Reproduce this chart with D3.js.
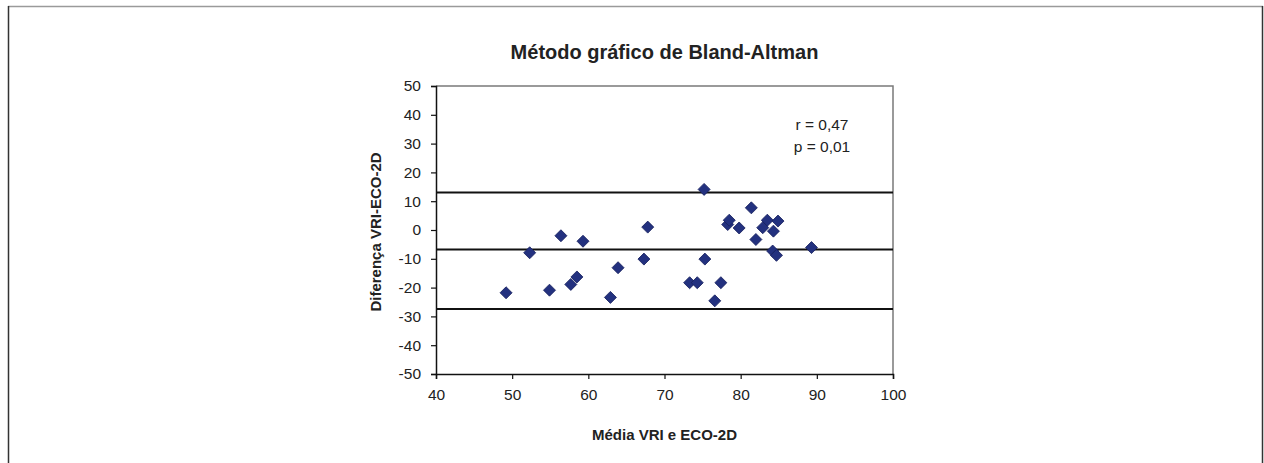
<!DOCTYPE html>
<html>
<head>
<meta charset="utf-8">
<script src="https://cdn.jsdelivr.net/npm/d3@7"></script>
<style>
  body { margin: 0; background: #fff; }
  text { font-family: "Liberation Sans", Arial, sans-serif; fill: #222; }
</style>
</head>
<body>
<div id="chart-area"></div>
<script>
// data
var meanVals = [49.2, 52.3, 54.9, 56.4, 57.7, 58.5, 59.3, 62.9, 63.9, 67.3, 67.8,
                73.3, 74.3, 75.2, 75.3, 76.6, 77.4, 78.3, 78.5, 79.8, 81.4, 82.0,
                82.9, 83.5, 84.2, 84.3, 84.7, 84.9, 89.3];
var diffVals = [-21.8, -7.9, -20.9, -2.0, -18.9, -16.3, -3.9, -23.4, -13.1, -10.1, 1.0,
                -18.3, -18.3, 14.1, -10.1, -24.6, -18.3, 1.9, 3.4, 0.7, 7.7, -3.3,
                0.8, 3.4, -7.3, -0.4, -8.8, 3.1, -6.1];
var refLines = [13.0, -6.8, -27.4];   // upper limit, mean, lower limit
var xTicks = [40, 50, 60, 70, 80, 90, 100];
var yTicks = [50, 40, 30, 20, 10, 0, -10, -20, -30, -40, -50];
var statLines = ["r = 0,47", "p = 0,01"];

var W = 1264, H = 463;
var plot = {left: 436, right: 893, top: 86, bottom: 374};

var svg = d3.select("#chart-area").append("svg")
    .attr("width", W)
    .attr("height", H);

// outer frame
svg.append("line").attr("x1", 8).attr("x2", 1263).attr("y1", 6.5).attr("y2", 6.5)
    .attr("stroke", "#9a9a9a").attr("stroke-width", 1.5);
svg.append("line").attr("x1", 8.5).attr("x2", 8.5).attr("y1", 6).attr("y2", H)
    .attr("stroke", "#333").attr("stroke-width", 1.5);
svg.append("line").attr("x1", 1262.5).attr("x2", 1262.5).attr("y1", 6).attr("y2", H)
    .attr("stroke", "#333").attr("stroke-width", 1.5);

var x = d3.scaleLinear().domain([40, 100]).range([plot.left, plot.right]);
var y = d3.scaleLinear().domain([-50, 50]).range([plot.bottom, plot.top]);

// title
svg.append("text")
    .attr("x", (plot.left + plot.right) / 2)
    .attr("y", 59)
    .attr("text-anchor", "middle")
    .style("font-size", "20px")
    .style("font-weight", "bold")
    .text("Método gráfico de Bland-Altman");

// top and right border of plot
svg.append("path")
    .attr("d", "M" + plot.left + "," + plot.top + "H" + plot.right + "V" + plot.bottom)
    .attr("fill", "none")
    .attr("stroke", "#7a7a7a")
    .attr("stroke-width", 1.5);

// reference lines
svg.selectAll("line.ref")
    .data(refLines)
    .enter().append("line")
    .attr("class", "ref")
    .attr("x1", x(40)).attr("x2", x(100))
    .attr("y1", function (d) { return y(d); })
    .attr("y2", function (d) { return y(d); })
    .attr("stroke", "#111")
    .attr("stroke-width", 2);

// axes
var xAxis = d3.axisBottom(x).tickValues(xTicks).tickSize(5).tickPadding(10)
    .tickFormat(d3.format("d"));
var yAxis = d3.axisLeft(y).tickValues(yTicks).tickSize(5).tickPadding(10)
    .tickFormat(function (d) { return d < 0 ? "-" + Math.abs(d) : d; });

var gx = svg.append("g")
    .attr("class", "x axis")
    .attr("transform", "translate(0," + plot.bottom + ")")
    .call(xAxis);
var gy = svg.append("g")
    .attr("class", "y axis")
    .attr("transform", "translate(" + plot.left + ",0)")
    .call(yAxis);

[gx, gy].forEach(function (g) {
    g.select(".domain").attr("stroke", "#111").attr("stroke-width", 1.5);
    g.selectAll(".tick line").attr("stroke", "#111").attr("stroke-width", 1.2);
    g.selectAll(".tick text")
        .style("font-size", "15.5px")
        .style("font-family", "'Liberation Sans', Arial, sans-serif")
        .attr("fill", "#222");
});

// points
var pts = meanVals.map(function (m, i) { return {m: m, d: diffVals[i]}; });
var diamond = d3.symbol().type(d3.symbolSquare).size(72);

svg.selectAll("path.pt")
    .data(pts)
    .enter().append("path")
    .attr("class", "pt")
    .attr("d", diamond)
    .attr("transform", function (d) {
        return "translate(" + x(d.m) + "," + y(d.d) + ") rotate(45)";
    })
    .attr("fill", "#23317f")
    .attr("stroke", "#18215f")
    .attr("stroke-width", 0.8);

// statistics text
svg.selectAll("text.stat")
    .data(statLines)
    .enter().append("text")
    .attr("class", "stat")
    .attr("x", 822)
    .attr("y", function (d, i) { return 130 + i * 22; })
    .attr("text-anchor", "middle")
    .style("font-size", "15.5px")
    .text(function (d) { return d; });

// axis titles
svg.append("text")
    .attr("x", (plot.left + plot.right) / 2)
    .attr("y", 440)
    .attr("text-anchor", "middle")
    .style("font-size", "15px")
    .style("font-weight", "bold")
    .text("Média VRI e ECO-2D");

svg.append("text")
    .attr("transform", "translate(381," + 232 + ") rotate(-90)")
    .attr("text-anchor", "middle")
    .style("font-size", "15px")
    .style("font-weight", "bold")
    .text("Diferença VRI-ECO-2D");
</script>
</body>
</html>
